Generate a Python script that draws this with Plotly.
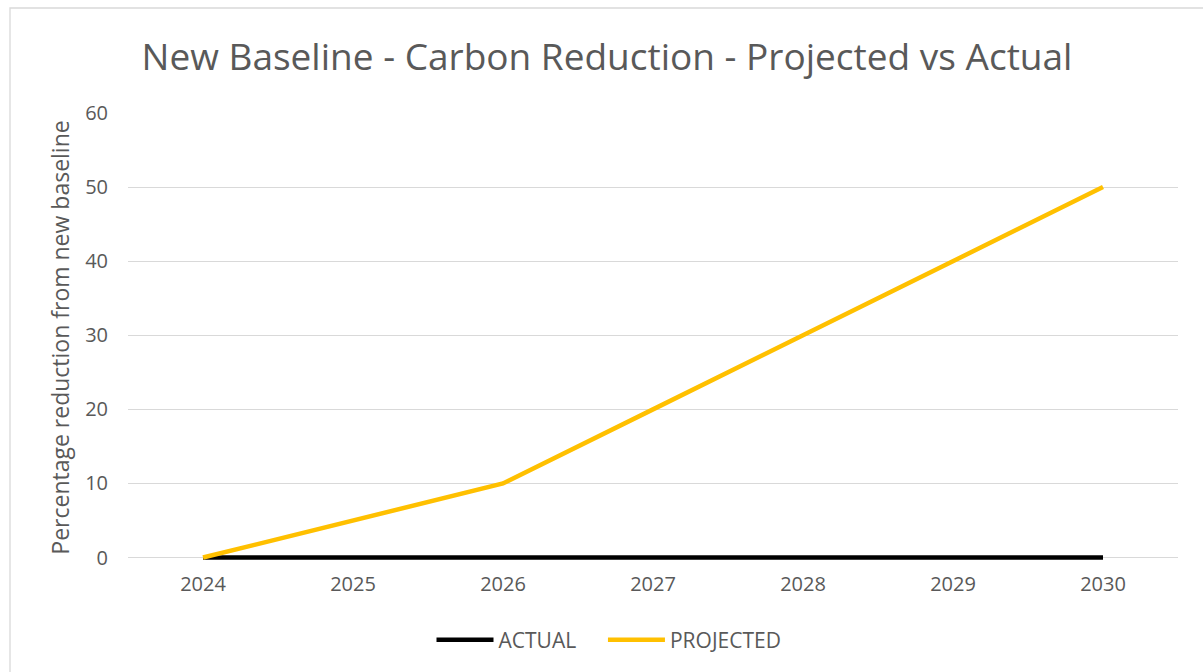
import plotly.graph_objects as go

years = [2024, 2025, 2026, 2027, 2028, 2029, 2030]
actual = [0, 0, 0, 0, 0, 0, 0]
projected = [0, 5, 10, 20, 30, 40, 50]
y_ticks = [0, 10, 20, 30, 40, 50, 60]

FONT = "Open Sans"
GREY = "#595959"
PAD = "\u00a0" * 4

fig = go.Figure()
fig.add_trace(go.Scatter(x=years, y=actual, mode="lines", name="ACTUAL" + PAD,
                         line=dict(color="#000000", width=4.5)))
fig.add_trace(go.Scatter(x=years, y=projected, mode="lines", name="PROJECTED",
                         line=dict(color="#FFC000", width=4.5)))

PH = 672 - 113 - 110
fig.update_layout(
    width=1203, height=672,
    margin=dict(l=128, r=25, t=113, b=110),
    paper_bgcolor="white", plot_bgcolor="white",
    font=dict(family=FONT, color=GREY),
    title=dict(text="New Baseline - Carbon Reduction - Projected vs Actual",
               font=dict(family=FONT, size=37, color=GREY),
               x=607/1203, xanchor="center", y=1 - 57/672, yanchor="middle"),
    xaxis=dict(range=[2023.5, 2030.5], tickvals=years, ticktext=[str(y) for y in years],
               showgrid=False, zeroline=False, showline=False, ticks="",
               ticklabelstandoff=8,
               tickfont=dict(size=20, color=GREY)),
    yaxis=dict(range=[-0.6, 60], tickvals=y_ticks, showgrid=True, gridcolor="#D9D9D9",
               gridwidth=1.3, zeroline=False, showline=False, ticks="",
               ticklabelstandoff=19,
               tickfont=dict(size=20, color=GREY),
               title=dict(text="Percentage reduction from new baseline",
                          font=dict(size=23, color=GREY), standoff=9)),
    legend=dict(orientation="h", x=(609 - 128) / 1050, xanchor="center",
                y=-(640 - 562) / PH, yanchor="middle",
                font=dict(size=21, color=GREY), itemwidth=57, traceorder="normal"),
    showlegend=True,
)
fig.add_shape(type="rect", xref="paper", yref="paper",
              x0=-118/1050, x1=1.1, y0=-0.4, y1=1 + 105/PH,
              line=dict(color="#D9D9D9", width=1.3), fillcolor="rgba(0,0,0,0)", layer="below")

fig.write_html("out.html", config={"displayModeBar": False},
               post_script="document.body.style.margin='0';")
